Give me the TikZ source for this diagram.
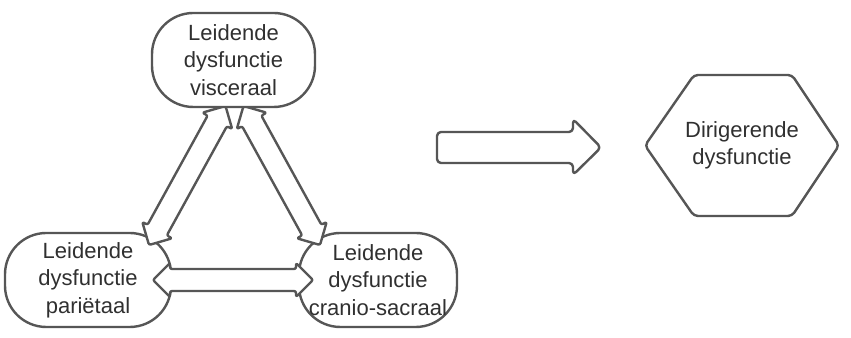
\documentclass[tikz,border=0pt]{standalone}
\usepackage{fontspec}
\setmainfont{Liberation Sans}
\definecolor{edge}{HTML}{565656}
\definecolor{ink}{HTML}{303030}
\tikzset{
  outline/.style={draw=edge, line width=1.8pt, line join=round, fill=white},
  stadium/.style={outline, rectangle, rounded corners=31pt, inner sep=0pt,
    align=center, text=ink, font=\fontsize{16.5}{20.5}\selectfont,
    minimum height=70.5pt},
  blockarrow/.style={outline, rounded corners=1.5pt},
  caption/.style={text=ink, align=center, inner sep=0pt,
    font=\fontsize{16.5}{20.5}\selectfont},
}
% double-headed block arrow: centre x, centre y, angle, tip-to-tip length
\newcommand\twinarrow[4]{%
  \begin{scope}[shift={(#1,#2)}, rotate=#3]
    \pgfmathsetmacro\hl{#4/2}
    \draw[blockarrow] (-\hl,0) -- (-\hl+17,17) -- (-\hl+17,11) -- (\hl-17,11)
      -- (\hl-17,17) -- (\hl,0) -- (\hl-17,-17) -- (\hl-17,-11)
      -- (-\hl+17,-11) -- (-\hl+17,-17) -- cycle;
  \end{scope}}
\begin{document}
\begin{tikzpicture}[x=0.75pt, y=0.75pt]
  \path[use as bounding box] (0,0) rectangle (851,338);

  % lower boxes
  \node[stadium, minimum width=124.5pt] (pariet) at (88,58)
    {Leidende\\dysfunctie\\pariëtaal};
  \node[stadium, minimum width=118.5pt] (cranio) at (378,58)
    {Leidende\\dysfunctie\\cranio-sacraal};

  % arrows of the triangle
  \twinarrow{187.25}{162.5}{61.17}{158.7}
  \twinarrow{281.75}{162.5}{118.83}{158.7}
  \twinarrow{233}{58}{0}{160}

  % upper box
  \node[stadium, minimum width=122.25pt] (viscer) at (233.5,278)
    {Leidende\\dysfunctie\\visceraal};

  % arrow towards the result
  \draw[blockarrow, rounded corners=3pt] (437,175) -- (573,175) -- (573,163)
    -- (601,190.5) -- (573,219) -- (573,206) -- (437,206) -- cycle;

  % result hexagon
  \draw[outline, rounded corners=3pt] (694,263) -- (792,263) -- (839,192.5)
    -- (792,122) -- (694,122) -- (645,192.5) -- cycle;
  \node[caption] (dirig) at (742,192.5) {Dirigerende\\dysfunctie};
\end{tikzpicture}
\end{document}
